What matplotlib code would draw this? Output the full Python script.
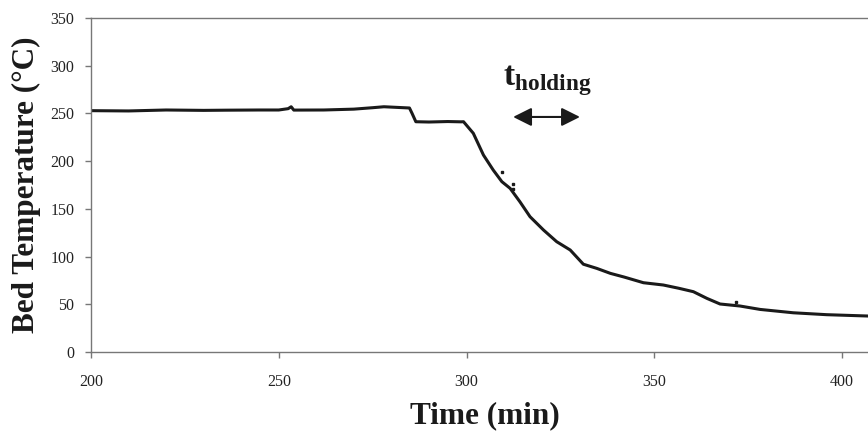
import matplotlib
matplotlib.use("Agg")
import matplotlib.pyplot as plt

plt.rcParams['font.family'] = ['Liberation Serif', 'DejaVu Serif']
plt.rcParams['mathtext.fontset'] = 'custom'
plt.rcParams['mathtext.rm'] = 'Liberation Serif'
plt.rcParams['mathtext.bf'] = 'Liberation Serif:bold'

# Bed temperature trace (time in min, temperature in °C)
time_min = [200, 210, 220, 230, 236, 245, 250, 252.5, 253.3, 254, 262, 270, 275,
            278, 284.8, 285.5, 286.5, 290, 295, 298.5,
            299.2, 301.8, 304.5, 307.1, 309.4, 311.6, 314.2, 316.9, 320.5, 324.0,
            327.6, 331.1, 334.7, 338.3, 342.0, 347.1, 352.4, 356.5, 360.4, 364.0,
            367.5, 372.8, 378.2, 387.0, 395.9, 406.9]
temp_c = [252.9, 252.6, 253.6, 253.2, 253.4, 253.6, 253.6, 255, 257, 253.5, 253.6, 254.5, 256,
          257, 255.7, 250, 241.3, 241, 241.5, 241.2,
          241.3, 229.2, 206.4, 190.7, 178.5, 171.5, 157.5, 141.8, 127.8, 115.6,
          106.9, 92.0, 87.6, 82.4, 78.5, 72.6, 70.2, 66.8, 63.2, 56.2,
          50.3, 48.2, 44.6, 41.1, 39.1, 37.7]

# stray readings
stray_t = [309.4, 312.3, 312.3, 371.7]
stray_T = [189, 176, 171, 52.7]

x_ticks = [200, 250, 300, 350, 400]
y_ticks = [0, 50, 100, 150, 200, 250, 300, 350]

fig = plt.figure(figsize=(8.68, 4.34), dpi=100)
ax = fig.add_axes([91/868, 1-352/434, 1-91/868, (352-18)/434])

ax.plot(time_min, temp_c, color='#1a1a1a', lw=2.2, solid_joinstyle='round')
ax.plot(stray_t, stray_T, ls='none', marker='s', ms=1.6, color='#1a1a1a')

ax.set_xlim(200, 406.9)
ax.set_ylim(0, 350)
ax.set_xticks(x_ticks)
ax.set_yticks(y_ticks)

spine_col = '#777777'
for s in ['left', 'bottom', 'top']:
    ax.spines[s].set_color(spine_col)
    ax.spines[s].set_linewidth(1.0)
ax.spines['right'].set_visible(False)

ax.tick_params(axis='x', direction='out', length=4, width=1, color=spine_col,
               pad=12, labelsize=11.5, labelcolor='#222222')
ax.tick_params(axis='y', direction='out', length=4, width=1, color=spine_col,
               pad=8, labelsize=11.5, labelcolor='#222222')

fig.text(485/868, 1-423/434, 'Time (min)', ha='center', va='baseline',
         fontsize=22.5, fontweight='bold', color='#1a1a1a')
fig.text(26/868, 1-185/434, 'Bed Temperature (°C)', rotation=90, ha='center', va='center',
         fontsize=22.5, fontweight='bold', color='#1a1a1a')

ax.text(309.7, 279.8, r'$\mathbf{t}_{\mathbf{holding}}$', fontsize=24, color='#1a1a1a',
        ha='left', va='baseline')
ax.annotate('', xy=(312.4, 246.3), xytext=(330.2, 246.3),
            arrowprops=dict(arrowstyle='<|-|>,head_length=0.8,head_width=0.4',
                            mutation_scale=14, color='#1a1a1a', lw=1.5,
                            shrinkA=0, shrinkB=0))

fig.savefig('out.png', dpi=100)
